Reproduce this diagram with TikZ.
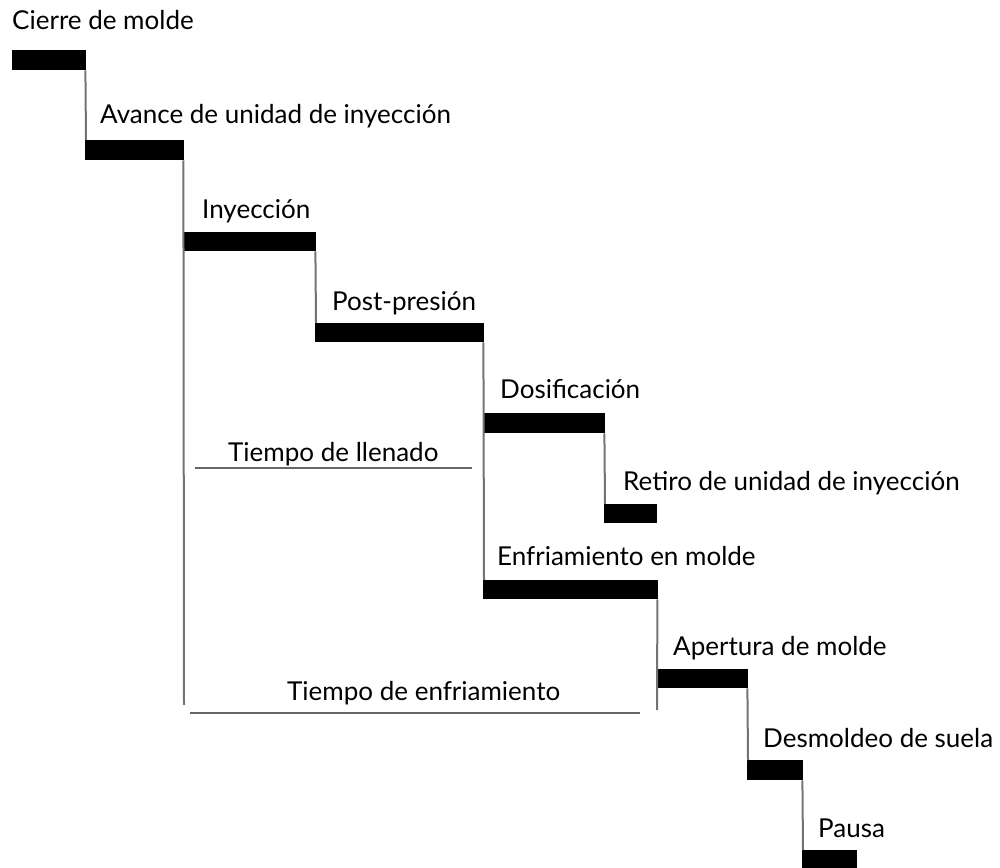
\documentclass[tikz,border=0pt]{standalone}
\usepackage{fontspec}
\setmainfont{Lato}
\begin{document}
\begin{tikzpicture}[x=1pt,y=-1pt,
  bar/.style={fill=black,draw=none,inner sep=0pt,anchor=north west},
  link/.style={draw=black!55,line width=2pt},
  span/.style={draw=black!60,line width=2pt},
  lbl/.style={anchor=base west,inner sep=0pt,font=\fontsize{26}{28}\selectfont}]
\useasboundingbox (0,0) rectangle (1000,867);

% stage bars: left, top, width, height
\node[bar,minimum width=74pt,minimum height=20pt]  (b1)  at (12,50)  {};
\node[bar,minimum width=99pt,minimum height=20pt]  (b2)  at (85,140) {};
\node[bar,minimum width=133pt,minimum height=19pt] (b3)  at (183,232) {};
\node[bar,minimum width=169pt,minimum height=19pt] (b4)  at (315,323) {};
\node[bar,minimum width=122pt,minimum height=20pt] (b5)  at (483,413) {};
\node[bar,minimum width=53pt,minimum height=19pt]  (b6)  at (604,504) {};
\node[bar,minimum width=175pt,minimum height=19pt] (b7)  at (483,580) {};
\node[bar,minimum width=92pt,minimum height=19pt]  (b8)  at (656,669) {};
\node[bar,minimum width=56pt,minimum height=20pt]  (b9)  at (747,760) {};
\node[bar,minimum width=55pt,minimum height=20pt]  (b10) at (802,850) {};

% stage labels
\node[lbl] (t1)  at (12,30)   {Cierre de molde};
\node[lbl] (t2)  at (100,123) {Avance de unidad de inyección};
\node[lbl] (t3)  at (202,218) {Inyección};
\node[lbl] (t4)  at (332,310) {Post-presión};
\node[lbl] (t5)  at (500,398) {Dosificación};
\node[lbl] (t6)  at (623,490) {Retiro de unidad de inyección};
\node[lbl] (t7)  at (497,565) {Enfriamiento en molde};
\node[lbl] (t8)  at (673,655) {Apertura de molde};
\node[lbl] (t9)  at (763,747) {Desmoldeo de suela};
\node[lbl] (t10) at (818,837) {Pausa};

% free ends of the long verticals
\coordinate (endA) at (184,705);
\coordinate (endB) at (657,710);

% step connectors
\draw[link] ([xshift=-1pt]b1.south east) -- ([xshift=1pt]b2.north west);
\draw[link] ([xshift=-1pt]b2.south east) -- (endA);
\draw[link] ([xshift=-1pt]b3.south east) -- ([xshift=1pt]b4.north west);
\draw[link] ([xshift=-1pt]b4.south east) -- ([xshift=1pt]b7.north west);
\draw[link] ([xshift=-1pt]b5.south east) -- ([xshift=1pt]b6.north west);
\draw[link] ([xshift=-1pt]b7.south east) -- (endB);
\draw[link] ([xshift=-1pt]b8.south east) -- ([xshift=1pt]b9.north west);
\draw[link] ([xshift=-1pt]b9.south east) -- ([xshift=1pt]b10.north west);

% time spans
\coordinate (fillL) at (195,468);
\coordinate (fillR) at (472,468);
\draw[span] (fillL) -- (fillR);
\node[lbl] (tf) at (228,461) {Tiempo de llenado};

\coordinate (coolL) at (190,713);
\coordinate (coolR) at (640,713);
\draw[span] (coolL) -- (coolR);
\node[lbl] (tc) at (287,700) {Tiempo de enfriamiento};
\end{tikzpicture}
\end{document}
